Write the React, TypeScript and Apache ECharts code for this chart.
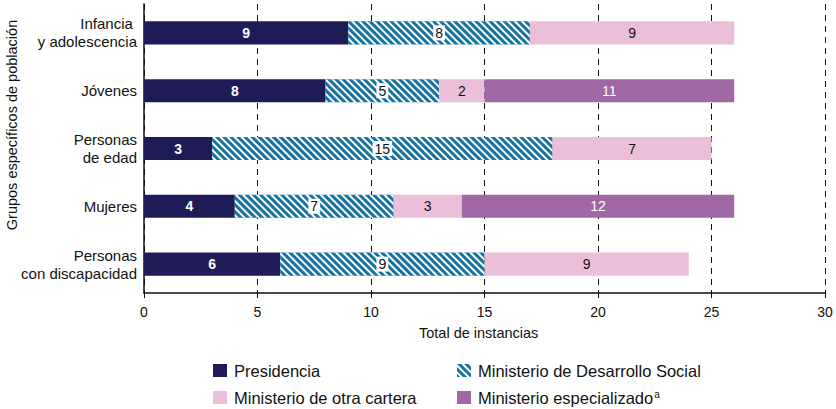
import React, { useEffect, useRef } from "react";
import * as echarts from "echarts";

const categories = ["Infancia \ny adolescencia", "Jóvenes", "Personas\nde edad", "Mujeres", "Personas\ncon discapacidad"];
const presidencia = [9, 8, 3, 4, 6];
const desarrolloSocial = [8, 5, 15, 7, 9];
const otraCartera = [9, 2, 7, 3, 9];
const especializado = [0, 11, 0, 12, 0];
const seriesNames = ["Presidencia", "Ministerio de Desarrollo Social", "Ministerio de otra cartera", "Ministerio especializado"];
const xTitle = "Total de instancias";
const yTitle = "Grupos específicos de población";

const FONT = "Liberation Sans, Arial, sans-serif";

export default function App() {
  const ref = useRef<HTMLDivElement>(null);
  useEffect(() => {
    if (!ref.current) return;
    const chart = echarts.init(ref.current, undefined, { renderer: "svg" });
    const fmt = (p: any) => (p.value ? String(p.value) : "");
    const baseLabel = { show: true, position: "inside", fontFamily: FONT, fontSize: 14, formatter: fmt };
    const legendPos = [
      { left: 213, top: 362 },
      { left: 457, top: 362 },
      { left: 213, top: 389 },
      { left: 457, top: 389 },
    ];
    const legends = seriesNames.map((n, i) => ({
      data: [n],
      left: legendPos[i].left,
      top: legendPos[i].top,
      padding: 0,
      itemWidth: 14,
      itemHeight: 13,
      itemGap: 0,
      icon: "rect",
      formatter: (nm: string) => (nm === seriesNames[3] ? nm + "{sup|a}" : nm),
      textStyle: {
        fontSize: 16.5,
        color: "#111",
        fontFamily: FONT,
        padding: [0, 0, 0, 2],
        rich: { sup: { fontSize: 10, verticalAlign: "top", padding: [0, 0, 7, 1], color: "#111", fontFamily: FONT } },
      },
    }));
    chart.setOption({
      animation: false,
      textStyle: { fontFamily: FONT },
      grid: { left: 144, right: 11, top: 4, bottom: 116, containLabel: false, outerBoundsMode: "none" },
      graphic: [
        {
          type: "text",
          left: 419,
          top: 325,
          style: { text: xTitle, fontSize: 14.5, fill: "#111", fontFamily: FONT },
        },
        {
          type: "text",
          x: 12,
          y: 125,
          rotation: Math.PI / 2,
          style: { text: yTitle, fontSize: 14.5, fill: "#111", fontFamily: FONT, align: "center", verticalAlign: "middle" },
        },
      ],
      xAxis: {
        type: "value",
        min: 0,
        max: 30,
        interval: 5,
        axisLine: { show: true, lineStyle: { color: "#111", width: 1.5 } },
        axisTick: { show: true, length: 5, lineStyle: { color: "#111" } },
        axisLabel: { fontSize: 14, color: "#111", margin: 12, fontFamily: FONT },
        splitLine: { show: true, lineStyle: { color: "#111", type: [6, 5], width: 1 } },
      },
      yAxis: {
        type: "category",
        data: categories,
        inverse: true,
        axisLine: { show: true, lineStyle: { color: "#111", width: 1.5 } },
        axisTick: { show: false },
        axisLabel: { fontSize: 15, color: "#111", margin: 7, lineHeight: 18, align: "right", fontFamily: FONT },
      },
      legend: legends,
      series: [
        {
          name: seriesNames[0],
          type: "bar",
          stack: "total",
          barWidth: "40%",
          data: presidencia,
          itemStyle: { color: "#1f1b56" },
          label: { ...baseLabel, color: "#fff", fontWeight: "bold" },
        },
        {
          name: seriesNames[1],
          type: "bar",
          stack: "total",
          data: desarrolloSocial,
          itemStyle: {
            color: "#15729f",
            decal: {
              symbol: "rect",
              color: "#ffffff",
              dashArrayX: [1, 0],
              dashArrayY: [2, 3],
              rotation: Math.PI / 4,
              symbolSize: 1,
            },
          },
          label: { ...baseLabel, color: "#111", backgroundColor: "#fff", padding: [1, 2, 0, 2] },
        },
        {
          name: seriesNames[2],
          type: "bar",
          stack: "total",
          data: otraCartera,
          itemStyle: { color: "#ebbfda" },
          label: { ...baseLabel, color: "#111" },
        },
        {
          name: seriesNames[3],
          type: "bar",
          stack: "total",
          data: especializado,
          itemStyle: { color: "#a069a6" },
          label: { ...baseLabel, color: "#fff" },
        },
      ],
    });
    return () => chart.dispose();
  }, []);
  return <div ref={ref} style={{ width: 836, height: 409, position: "absolute", left: 0, top: 0 }} />;
}
